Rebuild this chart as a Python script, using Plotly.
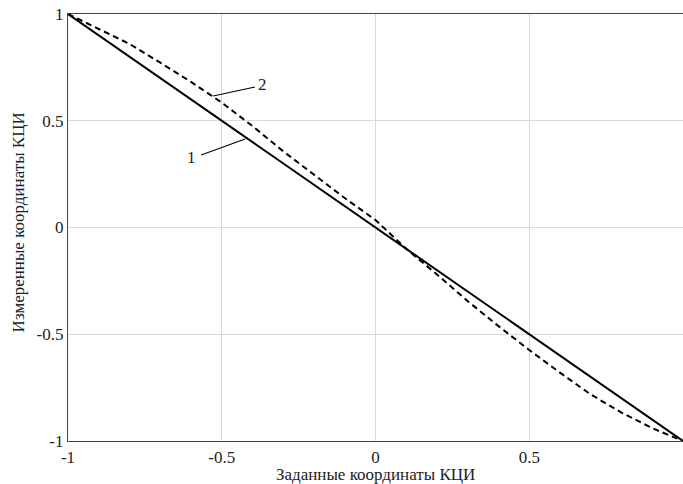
import plotly.graph_objects as go

# Line 1: ideal (measured = set)
x1 = [-1, 1]
y1 = [1, -1]

# Line 2: measured (dashed)
x2 = [-1, -0.9, -0.8, -0.7, -0.6, -0.5, -0.4, -0.3, -0.2, -0.1, 0, 0.1, 0.2, 0.3, 0.4, 0.5, 0.6, 0.7, 0.8, 0.9, 1]
y2 = [1, 0.93, 0.86, 0.772, 0.682, 0.585, 0.475, 0.357, 0.246, 0.138, 0.035, -0.1, -0.22, -0.345, -0.462, -0.574, -0.68, -0.782, -0.867, -0.94, -1]

xticks = [-1, -0.5, 0, 0.5]
xticklabels = ["-1", "-0.5", "0", "0.5"]
yticks = [-1, -0.5, 0, 0.5, 1]
yticklabels = ["-1", "-0.5", "0", "0.5", "1"]

font = "Liberation Serif, Tinos, Times New Roman, DejaVu Serif, serif"
tcol = "#222"

fig = go.Figure()
fig.add_trace(go.Scatter(x=x1, y=y1, mode="lines",
                         line=dict(color="black", width=2), showlegend=False))
fig.add_trace(go.Scatter(x=x2, y=y2, mode="lines",
                         line=dict(color="black", width=2, dash="6px,4px"), showlegend=False))

# Leader lines and labels
fig.add_trace(go.Scatter(x=[-0.528, -0.392], y=[0.616, 0.658], mode="lines",
                         line=dict(color="black", width=1.1), showlegend=False))
fig.add_trace(go.Scatter(x=[-0.567, -0.424], y=[0.340, 0.415], mode="lines",
                         line=dict(color="black", width=1.1), showlegend=False))
fig.add_annotation(x=-0.366, y=0.672, text="2", showarrow=False,
                   font=dict(family=font, size=17, color=tcol))
fig.add_annotation(x=-0.597, y=0.330, text="1", showarrow=False,
                   font=dict(family=font, size=17, color=tcol))

# Axis titles
fig.add_annotation(xref="paper", yref="paper", x=0.5, y=0, yshift=-33,
                   text="Заданные координаты КЦИ", showarrow=False,
                   xanchor="center", yanchor="middle",
                   font=dict(family=font, size=17, color=tcol))
fig.add_annotation(xref="paper", yref="paper", x=0, y=0.512, xshift=-50,
                   text="Измеренные координаты КЦИ", showarrow=False, textangle=-90,
                   xanchor="center", yanchor="middle",
                   font=dict(family=font, size=17, color=tcol))

fig.update_xaxes(range=[-1, 1], tickvals=xticks, ticktext=xticklabels,
                 showgrid=True, gridcolor="#d9d9d9", gridwidth=1,
                 zeroline=False, showline=True, linecolor="#444", linewidth=1.3,
                 mirror=True, ticks="", automargin=False,
                 tickfont=dict(family=font, size=17, color=tcol))
fig.update_yaxes(range=[-1, 1], tickvals=yticks, ticktext=yticklabels,
                 showgrid=True, gridcolor="#d9d9d9", gridwidth=1,
                 zeroline=False, showline=True, linecolor="#444", linewidth=1.3,
                 mirror=True, ticks="", automargin=False,
                 tickfont=dict(family=font, size=17, color=tcol))

fig.update_layout(width=683, height=484,
                  margin=dict(l=68, r=0, t=14, b=43),
                  font=dict(family=font),
                  plot_bgcolor="white", paper_bgcolor="white")

fig.write_html("out.html", config={"displayModeBar": False},
               post_script="document.body.style.margin='0';")
